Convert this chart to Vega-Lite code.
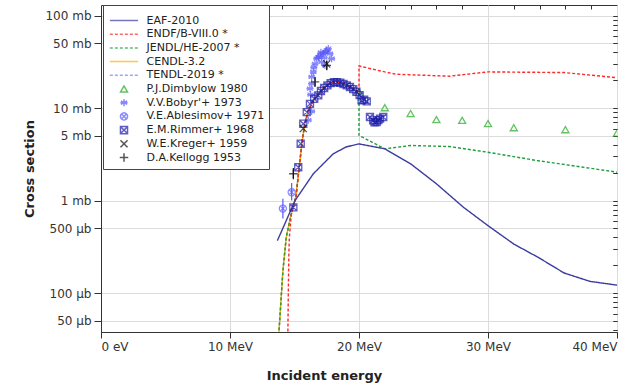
{
"$schema":"https://vega.github.io/schema/vega-lite/v6.json",
"width":516,"height":327,
"autosize":{"type":"none"},
"padding":{"left":101,"top":5,"right":17,"bottom":53},
"background":"white",
"config":{
 "font":"DejaVu Sans",
 "view":{"stroke":"#333","strokeWidth":1},
 "axis":{"labelFont":"DejaVu Sans","labelFontSize":12,"labelColor":"#333","titleFont":"DejaVu Sans","titleFontSize":13,"titleFontWeight":"bold","titleColor":"#222","domainColor":"#333","tickColor":"#333","gridColor":"#dcdcdc"},
 "legend":{"orient":"none","legendX":2,"legendY":0,"padding":4,"strokeColor":"#444","fillColor":"#ffffff","labelFont":"DejaVu Sans","labelFontSize":11,"labelColor":"#222","symbolSize":50,"symbolStrokeWidth":1.5,"rowPadding":-1.3,"gridAlign":"all","symbolOffset":11.5,"labelOffset":17,"labelLimit":220,"cornerRadius":0,"titleFontSize":2,"titlePadding":4}
},
"datasets":{
 "lines":[
  {"name":"TENDL-2019 *","e":13.78,"v":0.035,"i":1},{"name":"TENDL-2019 *","e":13.9,"v":0.064,"i":2},{"name":"TENDL-2019 *","e":14.1,"v":0.174,"i":3},{"name":"TENDL-2019 *","e":14.36,"v":0.4,"i":4},{"name":"TENDL-2019 *","e":14.63,"v":0.607,"i":5},{"name":"TENDL-2019 *","e":14.88,"v":0.846,"i":6},{"name":"TENDL-2019 *","e":15.1,"v":1.1,"i":7},{"name":"TENDL-2019 *","e":15.3,"v":1.9,"i":9},{"name":"TENDL-2019 *","e":15.45,"v":2.9,"i":10},{"name":"TENDL-2019 *","e":15.56,"v":4.1,"i":11},{"name":"TENDL-2019 *","e":15.8,"v":6.8,"i":12},{"name":"TENDL-2019 *","e":16.07,"v":9.4,"i":13},{"name":"TENDL-2019 *","e":16.3,"v":11.0,"i":14},{"name":"TENDL-2019 *","e":16.6,"v":12.8,"i":15},{"name":"TENDL-2019 *","e":16.9,"v":14.5,"i":16},{"name":"TENDL-2019 *","e":17.2,"v":16.2,"i":17},{"name":"TENDL-2019 *","e":17.6,"v":18.0,"i":18},{"name":"TENDL-2019 *","e":18.1,"v":19.2,"i":19},{"name":"TENDL-2019 *","e":18.5,"v":18.9,"i":20},{"name":"TENDL-2019 *","e":18.9,"v":18.0,"i":21},{"name":"TENDL-2019 *","e":19.3,"v":17.0,"i":22},{"name":"TENDL-2019 *","e":19.55,"v":16.2,"i":23},{"name":"TENDL-2019 *","e":20.0,"v":14.9,"i":24},
  {"name":"CENDL-3.2","e":13.78,"v":0.035,"i":31},{"name":"CENDL-3.2","e":13.9,"v":0.064,"i":32},{"name":"CENDL-3.2","e":14.1,"v":0.174,"i":33},{"name":"CENDL-3.2","e":14.36,"v":0.4,"i":34},{"name":"CENDL-3.2","e":14.63,"v":0.607,"i":35},{"name":"CENDL-3.2","e":14.88,"v":0.846,"i":36},{"name":"CENDL-3.2","e":15.1,"v":1.1,"i":37},{"name":"CENDL-3.2","e":15.3,"v":1.9,"i":39},{"name":"CENDL-3.2","e":15.45,"v":2.9,"i":40},{"name":"CENDL-3.2","e":15.56,"v":4.1,"i":41},{"name":"CENDL-3.2","e":15.8,"v":6.8,"i":42},{"name":"CENDL-3.2","e":16.07,"v":9.4,"i":43},{"name":"CENDL-3.2","e":16.3,"v":11.0,"i":44},{"name":"CENDL-3.2","e":16.6,"v":12.8,"i":45},{"name":"CENDL-3.2","e":16.9,"v":14.5,"i":46},{"name":"CENDL-3.2","e":17.2,"v":16.2,"i":47},{"name":"CENDL-3.2","e":17.6,"v":18.0,"i":48},{"name":"CENDL-3.2","e":18.1,"v":19.2,"i":49},{"name":"CENDL-3.2","e":18.5,"v":18.9,"i":50},{"name":"CENDL-3.2","e":18.9,"v":18.0,"i":51},{"name":"CENDL-3.2","e":19.3,"v":17.0,"i":52},{"name":"CENDL-3.2","e":19.55,"v":16.2,"i":53},{"name":"CENDL-3.2","e":20.0,"v":14.9,"i":54},
  {"name":"JENDL/HE-2007 *","e":13.78,"v":0.035,"i":61},{"name":"JENDL/HE-2007 *","e":13.9,"v":0.064,"i":62},{"name":"JENDL/HE-2007 *","e":14.1,"v":0.174,"i":63},{"name":"JENDL/HE-2007 *","e":14.36,"v":0.4,"i":64},{"name":"JENDL/HE-2007 *","e":14.63,"v":0.607,"i":65},{"name":"JENDL/HE-2007 *","e":14.88,"v":0.846,"i":66},{"name":"JENDL/HE-2007 *","e":15.1,"v":1.1,"i":67},{"name":"JENDL/HE-2007 *","e":15.3,"v":1.9,"i":69},{"name":"JENDL/HE-2007 *","e":15.45,"v":2.9,"i":70},{"name":"JENDL/HE-2007 *","e":15.56,"v":4.1,"i":71},{"name":"JENDL/HE-2007 *","e":15.8,"v":6.8,"i":72},{"name":"JENDL/HE-2007 *","e":16.07,"v":9.4,"i":73},{"name":"JENDL/HE-2007 *","e":16.3,"v":11.0,"i":74},{"name":"JENDL/HE-2007 *","e":16.6,"v":12.8,"i":75},{"name":"JENDL/HE-2007 *","e":16.9,"v":14.5,"i":76},{"name":"JENDL/HE-2007 *","e":17.2,"v":16.2,"i":77},{"name":"JENDL/HE-2007 *","e":17.6,"v":18.0,"i":78},{"name":"JENDL/HE-2007 *","e":18.1,"v":19.2,"i":79},{"name":"JENDL/HE-2007 *","e":18.5,"v":18.9,"i":80},{"name":"JENDL/HE-2007 *","e":18.9,"v":18.0,"i":81},{"name":"JENDL/HE-2007 *","e":19.3,"v":17.0,"i":82},{"name":"JENDL/HE-2007 *","e":19.55,"v":16.2,"i":83},{"name":"JENDL/HE-2007 *","e":20.0,"v":14.9,"i":84},{"name":"JENDL/HE-2007 *","e":20.0,"v":5.06,"i":85},{"name":"JENDL/HE-2007 *","e":22.0,"v":3.63,"i":86},{"name":"JENDL/HE-2007 *","e":24.0,"v":3.94,"i":87},{"name":"JENDL/HE-2007 *","e":27.0,"v":3.84,"i":88},{"name":"JENDL/HE-2007 *","e":30.0,"v":3.33,"i":89},{"name":"JENDL/HE-2007 *","e":33.8,"v":2.71,"i":90},{"name":"JENDL/HE-2007 *","e":40.0,"v":2.03,"i":91},
  {"name":"ENDF/B-VIII.0 *","e":14.48,"v":0.03,"i":101},{"name":"ENDF/B-VIII.0 *","e":14.52,"v":0.1,"i":102},{"name":"ENDF/B-VIII.0 *","e":14.56,"v":0.25,"i":103},{"name":"ENDF/B-VIII.0 *","e":14.6,"v":0.4,"i":104},{"name":"ENDF/B-VIII.0 *","e":14.75,"v":0.7,"i":105},{"name":"ENDF/B-VIII.0 *","e":14.95,"v":0.9,"i":106},{"name":"ENDF/B-VIII.0 *","e":15.15,"v":1.15,"i":107},{"name":"ENDF/B-VIII.0 *","e":15.3,"v":1.9,"i":108},{"name":"ENDF/B-VIII.0 *","e":15.45,"v":2.9,"i":109},{"name":"ENDF/B-VIII.0 *","e":15.56,"v":4.1,"i":110},{"name":"ENDF/B-VIII.0 *","e":15.8,"v":6.8,"i":111},{"name":"ENDF/B-VIII.0 *","e":16.07,"v":9.4,"i":112},{"name":"ENDF/B-VIII.0 *","e":16.3,"v":11.0,"i":113},{"name":"ENDF/B-VIII.0 *","e":16.6,"v":12.8,"i":114},{"name":"ENDF/B-VIII.0 *","e":16.9,"v":14.5,"i":115},{"name":"ENDF/B-VIII.0 *","e":17.2,"v":16.2,"i":116},{"name":"ENDF/B-VIII.0 *","e":17.6,"v":18.0,"i":117},{"name":"ENDF/B-VIII.0 *","e":18.1,"v":19.2,"i":118},{"name":"ENDF/B-VIII.0 *","e":18.5,"v":18.9,"i":119},{"name":"ENDF/B-VIII.0 *","e":18.9,"v":18.0,"i":120},{"name":"ENDF/B-VIII.0 *","e":19.3,"v":17.0,"i":121},{"name":"ENDF/B-VIII.0 *","e":19.55,"v":16.2,"i":122},{"name":"ENDF/B-VIII.0 *","e":20.0,"v":14.9,"i":123},{"name":"ENDF/B-VIII.0 *","e":20.0,"v":28.5,"i":124},{"name":"ENDF/B-VIII.0 *","e":22.0,"v":24.6,"i":125},{"name":"ENDF/B-VIII.0 *","e":22.9,"v":23.2,"i":126},{"name":"ENDF/B-VIII.0 *","e":27.0,"v":22.1,"i":127},{"name":"ENDF/B-VIII.0 *","e":30.0,"v":24.6,"i":128},{"name":"ENDF/B-VIII.0 *","e":35.9,"v":24.2,"i":129},{"name":"ENDF/B-VIII.0 *","e":40.0,"v":21.3,"i":130},
  {"name":"EAF-2010","e":13.67,"v":0.369,"i":141},{"name":"EAF-2010","e":14.13,"v":0.514,"i":142},{"name":"EAF-2010","e":15.04,"v":1.0,"i":143},{"name":"EAF-2010","e":16.46,"v":1.95,"i":144},{"name":"EAF-2010","e":18.0,"v":3.2,"i":145},{"name":"EAF-2010","e":19.0,"v":3.8,"i":146},{"name":"EAF-2010","e":20.0,"v":4.1,"i":147},{"name":"EAF-2010","e":22.0,"v":3.63,"i":148},{"name":"EAF-2010","e":24.0,"v":2.5,"i":149},{"name":"EAF-2010","e":26.0,"v":1.52,"i":150},{"name":"EAF-2010","e":28.1,"v":0.846,"i":151},{"name":"EAF-2010","e":30.0,"v":0.536,"i":152},{"name":"EAF-2010","e":32.0,"v":0.339,"i":153},{"name":"EAF-2010","e":33.9,"v":0.243,"i":154},{"name":"EAF-2010","e":35.9,"v":0.165,"i":155},{"name":"EAF-2010","e":37.9,"v":0.134,"i":156},{"name":"EAF-2010","e":40.0,"v":0.122,"i":157}
 ],
 "pts":[
  {"name":"P.J.Dimbylow 1980","e":20.0,"v":14.9},{"name":"P.J.Dimbylow 1980","e":22.0,"v":10.1},{"name":"P.J.Dimbylow 1980","e":24.0,"v":8.72},{"name":"P.J.Dimbylow 1980","e":26.0,"v":7.5},{"name":"P.J.Dimbylow 1980","e":28.0,"v":7.36},{"name":"P.J.Dimbylow 1980","e":30.0,"v":6.8},{"name":"P.J.Dimbylow 1980","e":32.0,"v":6.14},{"name":"P.J.Dimbylow 1980","e":36.0,"v":5.84},{"name":"P.J.Dimbylow 1980","e":40.0,"v":5.36},
  {"name":"V.V.Bobyr'+ 1973","e":16.07,"v":7.4},{"name":"V.V.Bobyr'+ 1973","e":16.33,"v":9.2},{"name":"V.V.Bobyr'+ 1973","e":16.25,"v":14.0},{"name":"V.V.Bobyr'+ 1973","e":16.2,"v":16.2},{"name":"V.V.Bobyr'+ 1973","e":16.33,"v":18.4},{"name":"V.V.Bobyr'+ 1973","e":16.33,"v":21.7},{"name":"V.V.Bobyr'+ 1973","e":16.46,"v":24.6},{"name":"V.V.Bobyr'+ 1973","e":16.5,"v":27.5},{"name":"V.V.Bobyr'+ 1973","e":16.59,"v":30.1},{"name":"V.V.Bobyr'+ 1973","e":16.72,"v":34.2},{"name":"V.V.Bobyr'+ 1973","e":16.85,"v":35.5},{"name":"V.V.Bobyr'+ 1973","e":16.98,"v":37.2},{"name":"V.V.Bobyr'+ 1973","e":17.05,"v":40.0},{"name":"V.V.Bobyr'+ 1973","e":17.1,"v":31.5},{"name":"V.V.Bobyr'+ 1973","e":17.23,"v":38.8},{"name":"V.V.Bobyr'+ 1973","e":17.3,"v":35.0},{"name":"V.V.Bobyr'+ 1973","e":17.36,"v":29.0},{"name":"V.V.Bobyr'+ 1973","e":17.4,"v":40.5},{"name":"V.V.Bobyr'+ 1973","e":17.5,"v":42.1},{"name":"V.V.Bobyr'+ 1973","e":17.62,"v":44.0},{"name":"V.V.Bobyr'+ 1973","e":17.75,"v":38.8},{"name":"V.V.Bobyr'+ 1973","e":17.88,"v":34.2},
  {"name":"V.E.Ablesimov+ 1971","e":14.1,"v":0.82},{"name":"V.E.Ablesimov+ 1971","e":14.78,"v":1.23},
  {"name":"E.M.Rimmer+ 1968","e":14.91,"v":0.846},{"name":"E.M.Rimmer+ 1968","e":15.29,"v":2.29},{"name":"E.M.Rimmer+ 1968","e":15.48,"v":4.12},{"name":"E.M.Rimmer+ 1968","e":15.68,"v":6.77},{"name":"E.M.Rimmer+ 1968","e":15.95,"v":9.05},{"name":"E.M.Rimmer+ 1968","e":16.2,"v":11.1},{"name":"E.M.Rimmer+ 1968","e":16.53,"v":12.6},{"name":"E.M.Rimmer+ 1968","e":16.84,"v":13.7},{"name":"E.M.Rimmer+ 1968","e":17.05,"v":15.3},{"name":"E.M.Rimmer+ 1968","e":17.3,"v":16.5},{"name":"E.M.Rimmer+ 1968","e":17.55,"v":17.6},{"name":"E.M.Rimmer+ 1968","e":17.8,"v":18.6},{"name":"E.M.Rimmer+ 1968","e":18.05,"v":19.0},{"name":"E.M.Rimmer+ 1968","e":18.3,"v":19.1},{"name":"E.M.Rimmer+ 1968","e":18.55,"v":18.8},{"name":"E.M.Rimmer+ 1968","e":18.8,"v":18.2},{"name":"E.M.Rimmer+ 1968","e":19.05,"v":17.6},{"name":"E.M.Rimmer+ 1968","e":19.3,"v":16.9},{"name":"E.M.Rimmer+ 1968","e":19.55,"v":16.0},{"name":"E.M.Rimmer+ 1968","e":19.8,"v":15.0},{"name":"E.M.Rimmer+ 1968","e":20.05,"v":13.8},{"name":"E.M.Rimmer+ 1968","e":20.2,"v":12.1},{"name":"E.M.Rimmer+ 1968","e":20.4,"v":12.3},{"name":"E.M.Rimmer+ 1968","e":20.6,"v":11.8},{"name":"E.M.Rimmer+ 1968","e":20.85,"v":8.0},{"name":"E.M.Rimmer+ 1968","e":21.1,"v":7.36},{"name":"E.M.Rimmer+ 1968","e":21.2,"v":7.0},{"name":"E.M.Rimmer+ 1968","e":21.37,"v":7.05},{"name":"E.M.Rimmer+ 1968","e":21.5,"v":7.4},{"name":"E.M.Rimmer+ 1968","e":21.63,"v":7.7},{"name":"E.M.Rimmer+ 1968","e":21.88,"v":8.0},
  {"name":"W.E.Kreger+ 1959","e":15.68,"v":6.0},{"name":"W.E.Kreger+ 1959","e":17.5,"v":30.0},
  {"name":"D.A.Kellogg 1953","e":14.91,"v":1.95},{"name":"D.A.Kellogg 1953","e":16.59,"v":19.2},{"name":"D.A.Kellogg 1953","e":17.5,"v":29.0}
 ],
 "err":[
  {"name":"D.A.Kellogg 1953","e":14.91,"lo":1.7,"hi":2.25},{"name":"D.A.Kellogg 1953","e":16.59,"lo":16.9,"hi":21.7},{"name":"D.A.Kellogg 1953","e":17.5,"lo":25.6,"hi":32.6},
  {"name":"V.E.Ablesimov+ 1971","e":14.1,"lo":0.64,"hi":1.05},{"name":"V.E.Ablesimov+ 1971","e":14.78,"lo":1.0,"hi":1.55}
 ]
},
"layer":[
 {
  "data":{"name":"lines"},
  "mark":{"type":"line","clip":true,"strokeWidth":1.4},
  "encoding":{
   "x":{"field":"e","type":"quantitative","scale":{"domain":[0,40],"nice":false,"zero":false},
        "axis":{"title":"Incident energy","values":[0,10,20,30,40],"labelExpr":"datum.value==0?'0 eV':datum.value+' MeV'","tickSize":6,"labelPadding":3,"grid":true,"titleX":223,"titleY":43,"titleBaseline":"middle"}},
   "y":{"field":"v","type":"quantitative","scale":{"type":"log","domain":[0.038,130],"nice":false},
        "axis":{"title":"Cross section","values":[0.05,0.1,0.5,1,5,10,50,100],"labelExpr":"datum.value>=1?datum.value+' mb':round(datum.value*1000)+' µb'","tickSize":7,"labelPadding":3,"grid":true,"titleX":-72,"titleBaseline":"middle"}},
   "color":{"field":"name","type":"nominal","title":" ",
     "scale":{"domain":["EAF-2010","ENDF/B-VIII.0 *","JENDL/HE-2007 *","CENDL-3.2","TENDL-2019 *","P.J.Dimbylow 1980","V.V.Bobyr'+ 1973","V.E.Ablesimov+ 1971","E.M.Rimmer+ 1968","W.E.Kreger+ 1959","D.A.Kellogg 1953"],
              "range":["#3c3ca0","#ff2a2a","#1e9e3a","#ffb000","#6688ff","#22aa22","#5555ff","#5a5aff","#1a1aa8","#111111","#111111"]}},
   "strokeDash":{"field":"name","type":"nominal","title":" ",
     "scale":{"domain":["EAF-2010","ENDF/B-VIII.0 *","JENDL/HE-2007 *","CENDL-3.2","TENDL-2019 *","P.J.Dimbylow 1980","V.V.Bobyr'+ 1973","V.E.Ablesimov+ 1971","E.M.Rimmer+ 1968","W.E.Kreger+ 1959","D.A.Kellogg 1953"],
              "range":[[1,0],[3,2],[3,2],[1,0],[3,2],[1,0],[1,0],[1,0],[1,0],[1,0],[1,0]]}},
   "order":{"field":"i","type":"quantitative"}
  }
 },
 {
  "data":{"name":"err"},
  "transform":[{"filter":"datum.name=='D.A.Kellogg 1953'"}],
  "mark":{"type":"rule","color":"#111111","strokeWidth":1.2,"clip":true},
  "encoding":{
   "x":{"field":"e","type":"quantitative","axis":{"values":[2,4,6,8,12,14,16,18,22,24,26,28,32,34,36,38],"tickSize":-4,"labels":false,"domain":false,"grid":false,"title":null}},
   "y":{"field":"lo","type":"quantitative","axis":{"values":[0.04,0.05,0.06,0.07,0.08,0.09,0.1,0.2,0.3,0.4,0.5,0.6,0.7,0.8,0.9,1,2,3,4,5,6,7,8,9,10,20,30,40,50,60,70,80,90,100],"tickSize":-4,"labels":false,"domain":false,"grid":false,"title":null}},
   "y2":{"field":"hi"}
  }
 },
 {
  "data":{"name":"err"},
  "transform":[{"filter":"datum.name=='V.E.Ablesimov+ 1971'"}],
  "mark":{"type":"rule","color":"#5a5aff","strokeWidth":1.2,"clip":true},
  "encoding":{
   "x":{"field":"e","type":"quantitative","axis":null},
   "y":{"field":"lo","type":"quantitative","axis":{"orient":"right","values":[0.04,0.05,0.06,0.07,0.08,0.09,0.1,0.2,0.3,0.4,0.5,0.6,0.7,0.8,0.9,1,2,3,4,5,6,7,8,9,10,20,30,40,50,60,70,80,90,100],"tickSize":-4,"labels":false,"domain":false,"grid":false,"title":null}},
   "y2":{"field":"hi"}
  }
 },
 {
  "data":{"name":"pts"},
  "mark":{"type":"point","filled":false,"size":50,"strokeWidth":1.3,"clip":true},
  "encoding":{
   "x":{"field":"e","type":"quantitative","axis":null},
   "y":{"field":"v","type":"quantitative","axis":null},
   "color":{"field":"name","type":"nominal","title":" "},
   "shape":{"field":"name","type":"nominal","title":" ",
     "scale":{"domain":["EAF-2010","ENDF/B-VIII.0 *","JENDL/HE-2007 *","CENDL-3.2","TENDL-2019 *","P.J.Dimbylow 1980","V.V.Bobyr'+ 1973","V.E.Ablesimov+ 1971","E.M.Rimmer+ 1968","W.E.Kreger+ 1959","D.A.Kellogg 1953"],
              "range":["M-4,0H4","M-4,0H4","M-4,0H4","M-4,0H4","M-4,0H4","triangle-up","M0,-1V1M-0.87,-0.5L0.87,0.5M-0.87,0.5L0.87,-0.5M-1,0H1","M1,0A1,1,0,1,1,-1,0A1,1,0,1,1,1,0ZM-0.7,-0.7L0.7,0.7M-0.7,0.7L0.7,-0.7","M-1,-1H1V1H-1ZM-1,-1L1,1M-1,1L1,-1","M-1,-1L1,1M-1,1L1,-1","M-1.2,0H1.2M0,-1.2V1.2"]}}
  }
 }
],
"resolve":{"axis":{"x":"independent","y":"independent"}}
}
